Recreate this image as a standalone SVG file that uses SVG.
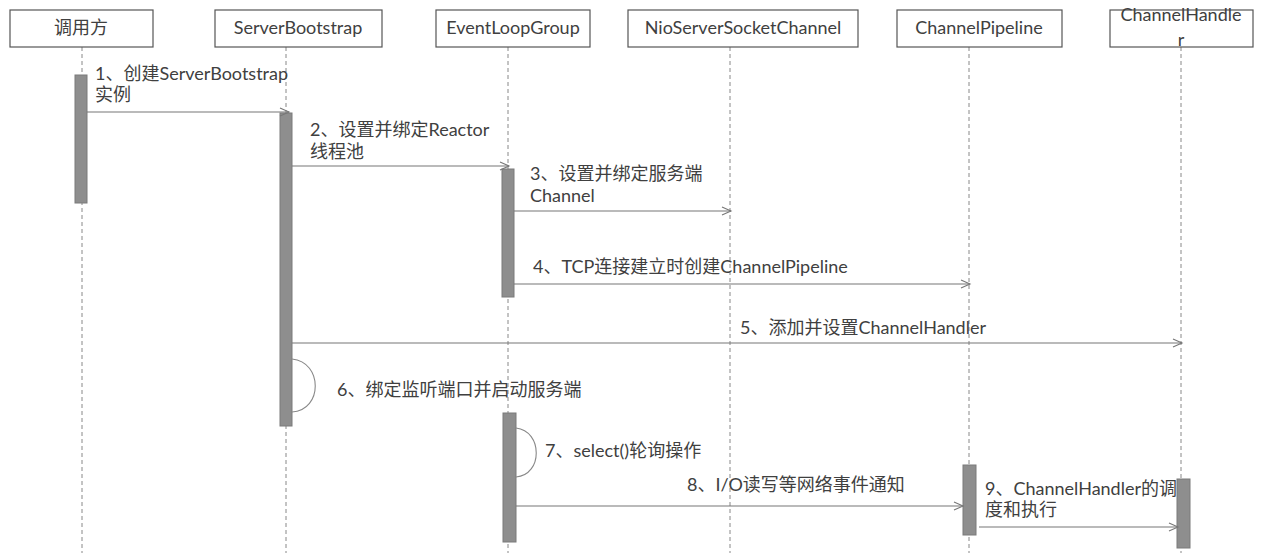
<svg xmlns="http://www.w3.org/2000/svg" width="1263" height="556" viewBox="0 0 1263 556">
<defs>
<style>
.box{fill:#fff;stroke:#555;stroke-width:1.2}
.life{stroke:#888;stroke-width:1;stroke-dasharray:4,3;fill:none}
.bar{fill:#8e8e8e;stroke:#7a7a7a;stroke-width:1}
.msg{stroke:#777;stroke-width:1.1;fill:none}
.loop{stroke:#888;stroke-width:1.1;fill:none}
text{font-family:"Lato","Noto Sans CJK SC",sans-serif;font-size:18px;fill:#404040}
.h{text-anchor:middle}
</style>
<marker id="arr" markerWidth="12" markerHeight="10" refX="10" refY="5" orient="auto" markerUnits="userSpaceOnUse">
<path d="M1,1 L10,5 L1,9" fill="none" stroke="#777" stroke-width="1.1"/>
</marker>
</defs>
<rect width="1263" height="556" fill="#fff"/>
<g id="lifelines">
<line class="life" x1="82" y1="47" x2="82" y2="553"/>
<line class="life" x1="286" y1="47" x2="286" y2="553"/>
<line class="life" x1="508" y1="47" x2="508" y2="553"/>
<line class="life" x1="730" y1="47" x2="730" y2="553"/>
<line class="life" x1="969" y1="47" x2="969" y2="553"/>
<line class="life" x1="1181" y1="47" x2="1181" y2="553"/>
</g>
<g id="caller">
<rect class="box" x="10" y="10" width="143" height="37"/>
<text class="h" x="81" y="34">调用方</text>
<rect class="bar" x="75" y="75" width="12" height="128"/>
</g>
<g id="serverbootstrap">
<rect class="box" x="215" y="10" width="167" height="37"/>
<text class="h" x="298" y="34">ServerBootstrap</text>
<rect class="bar" x="280" y="113" width="12" height="313"/>
</g>
<g id="eventloopgroup">
<rect class="box" x="436" y="10" width="154" height="37"/>
<text class="h" x="513" y="34">EventLoopGroup</text>
<rect class="bar" x="502" y="169" width="12" height="128"/>
<rect class="bar" x="503" y="413" width="13" height="129"/>
</g>
<g id="nioserversocketchannel">
<rect class="box" x="628" y="10" width="230" height="37"/>
<text class="h" x="743" y="34">NioServerSocketChannel</text>
</g>
<g id="channelpipeline">
<rect class="box" x="897" y="10" width="165" height="37"/>
<text class="h" x="979" y="34">ChannelPipeline</text>
<rect class="bar" x="963" y="465" width="13" height="70"/>
</g>
<g id="channelhandler">
<rect class="box" x="1110" y="10" width="143" height="37"/>
<text class="h" x="1181" y="21">ChannelHandle</text>
<text class="h" x="1181" y="46">r</text>
<rect class="bar" x="1177" y="479" width="13" height="69"/>
</g>
<g id="connectors">
<line class="msg" x1="87" y1="112" x2="289" y2="112" marker-end="url(#arr)"/>
<line class="msg" x1="292" y1="166" x2="509" y2="166" marker-end="url(#arr)"/>
<line class="msg" x1="514" y1="211" x2="731" y2="211" marker-end="url(#arr)"/>
<line class="msg" x1="514" y1="284" x2="970" y2="284" marker-end="url(#arr)"/>
<line class="msg" x1="292" y1="343" x2="1182" y2="343" marker-end="url(#arr)"/>
<path class="loop" d="M292,359 C323,362 323,410 292,412"/>
<path class="loop" d="M516,428 C543,431 543,475 516,477"/>
<line class="msg" x1="516" y1="506" x2="963" y2="506" marker-end="url(#arr)"/>
<line class="msg" x1="979" y1="527" x2="1178" y2="527" marker-end="url(#arr)"/>
</g>
<g id="labels">
<text x="95" y="80">1、创建ServerBootstrap</text>
<text x="95" y="101">实例</text>
<text x="310" y="136">2、设置并绑定Reactor</text>
<text x="310" y="158">线程池</text>
<text x="530" y="180">3、设置并绑定服务端</text>
<text x="530" y="202">Channel</text>
<text x="533" y="273">4、TCP连接建立时创建ChannelPipeline</text>
<text x="740" y="334">5、添加并设置ChannelHandler</text>
<text x="337" y="396">6、绑定监听端口并启动服务端</text>
<text x="545" y="457">7、select()轮询操作</text>
<text x="687" y="491">8、I/O读写等网络事件通知</text>
<text x="985" y="495">9、ChannelHandler的调</text>
<text x="985" y="516">度和执行</text>
</g>
</svg>
